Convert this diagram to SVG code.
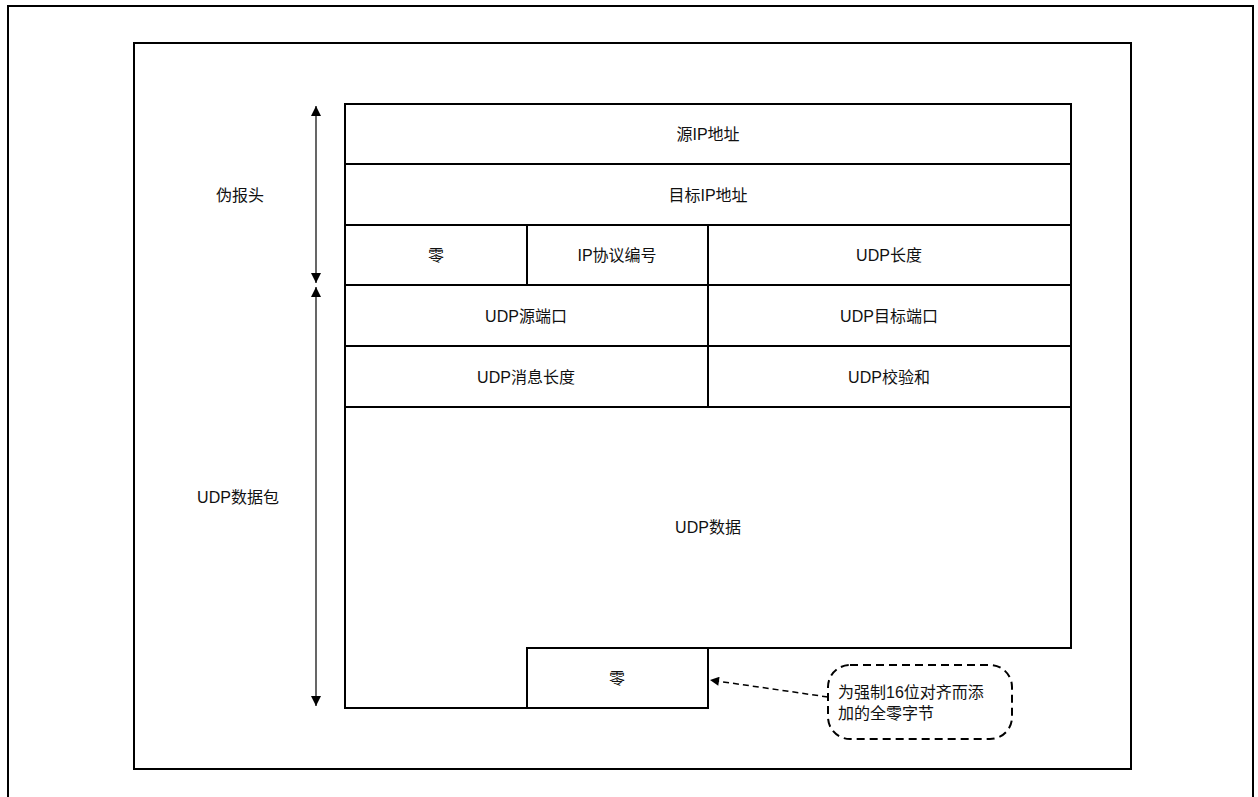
<svg xmlns="http://www.w3.org/2000/svg" width="1258" height="797" viewBox="0 0 1258 797">
<style>
  text { font-family: "Liberation Sans", "Noto Sans CJK SC", sans-serif; font-size: 16px; fill: #111; }
  .c { text-anchor: middle; dominant-baseline: central; }
  .cell { fill: #fff; stroke: #000; stroke-width: 2; }
  .frame { fill: none; stroke: #000; stroke-width: 2; }
  .dim { stroke: #000; stroke-width: 1.2; fill: none; }
  .lead { stroke: #000; stroke-width: 1.5; stroke-dasharray: 6 4; fill: none; }
</style>
<defs>
  <marker id="ah" viewBox="0 0 10 10" refX="10" refY="5" markerWidth="10" markerHeight="10" markerUnits="userSpaceOnUse" orient="auto-start-reverse">
    <path d="M0,0 L10,5 L0,10 z" fill="#000"/>
  </marker>
  <marker id="ah2" viewBox="0 0 10 10" refX="10" refY="5" markerWidth="11" markerHeight="9" markerUnits="userSpaceOnUse" orient="auto">
    <path d="M0,0 L10,5 L0,10 z" fill="#000"/>
  </marker>
</defs>
<rect x="0" y="0" width="1258" height="797" fill="#fff"/>
<rect class="frame" x="8" y="6" width="1245" height="800"/>
<rect class="frame" x="134" y="43" width="997" height="726"/>

<g id="label-pseudo"><text class="c" x="240" y="195">伪报头</text></g>
<g id="label-udp"><text class="c" x="238" y="497">UDP数据包</text></g>

<g id="src-ip"><rect class="cell" x="345" y="104" width="726" height="60"/><text class="c" x="708" y="134">源IP地址</text></g>
<g id="dst-ip"><rect class="cell" x="345" y="164" width="726" height="61"/><text class="c" x="708" y="195">目标IP地址</text></g>
<g id="zero1"><rect class="cell" x="345" y="225" width="182" height="60"/><text class="c" x="436" y="255">零</text></g>
<g id="proto"><rect class="cell" x="527" y="225" width="181" height="60"/><text class="c" x="617" y="255">IP协议编号</text></g>
<g id="udp-len"><rect class="cell" x="708" y="225" width="363" height="60"/><text class="c" x="889" y="255">UDP长度</text></g>
<g id="src-port"><rect class="cell" x="345" y="285" width="363" height="61"/><text class="c" x="526" y="316">UDP源端口</text></g>
<g id="dst-port"><rect class="cell" x="708" y="285" width="363" height="61"/><text class="c" x="889" y="316">UDP目标端口</text></g>
<g id="msg-len"><rect class="cell" x="345" y="346" width="363" height="61"/><text class="c" x="526" y="377">UDP消息长度</text></g>
<g id="checksum"><rect class="cell" x="708" y="346" width="363" height="61"/><text class="c" x="889" y="377">UDP校验和</text></g>
<g id="data"><path class="cell" d="M345,407 H1071 V648 H708 V708 H345 Z"/><text class="c" x="708" y="527">UDP数据</text></g>
<g id="pad"><rect class="cell" x="527" y="648" width="181" height="60"/><text class="c" x="617" y="678">零</text></g>
<g id="note"><rect x="828" y="665" width="184" height="74" rx="22" ry="22" fill="#fff" stroke="#000" stroke-width="2" stroke-dasharray="8 5"/>
  <text x="838" y="698">为强制16位对齐而添</text>
  <text x="838" y="719">加的全零字节</text></g>

<g id="connectors">
  <line class="dim" x1="316" y1="106" x2="316" y2="283" marker-start="url(#ah)" marker-end="url(#ah)"/>
  <line class="dim" x1="316" y1="287" x2="316" y2="706" marker-start="url(#ah)" marker-end="url(#ah)"/>
  <line class="lead" x1="828" y1="697" x2="710" y2="680" marker-end="url(#ah2)"/>
</g>
</svg>
